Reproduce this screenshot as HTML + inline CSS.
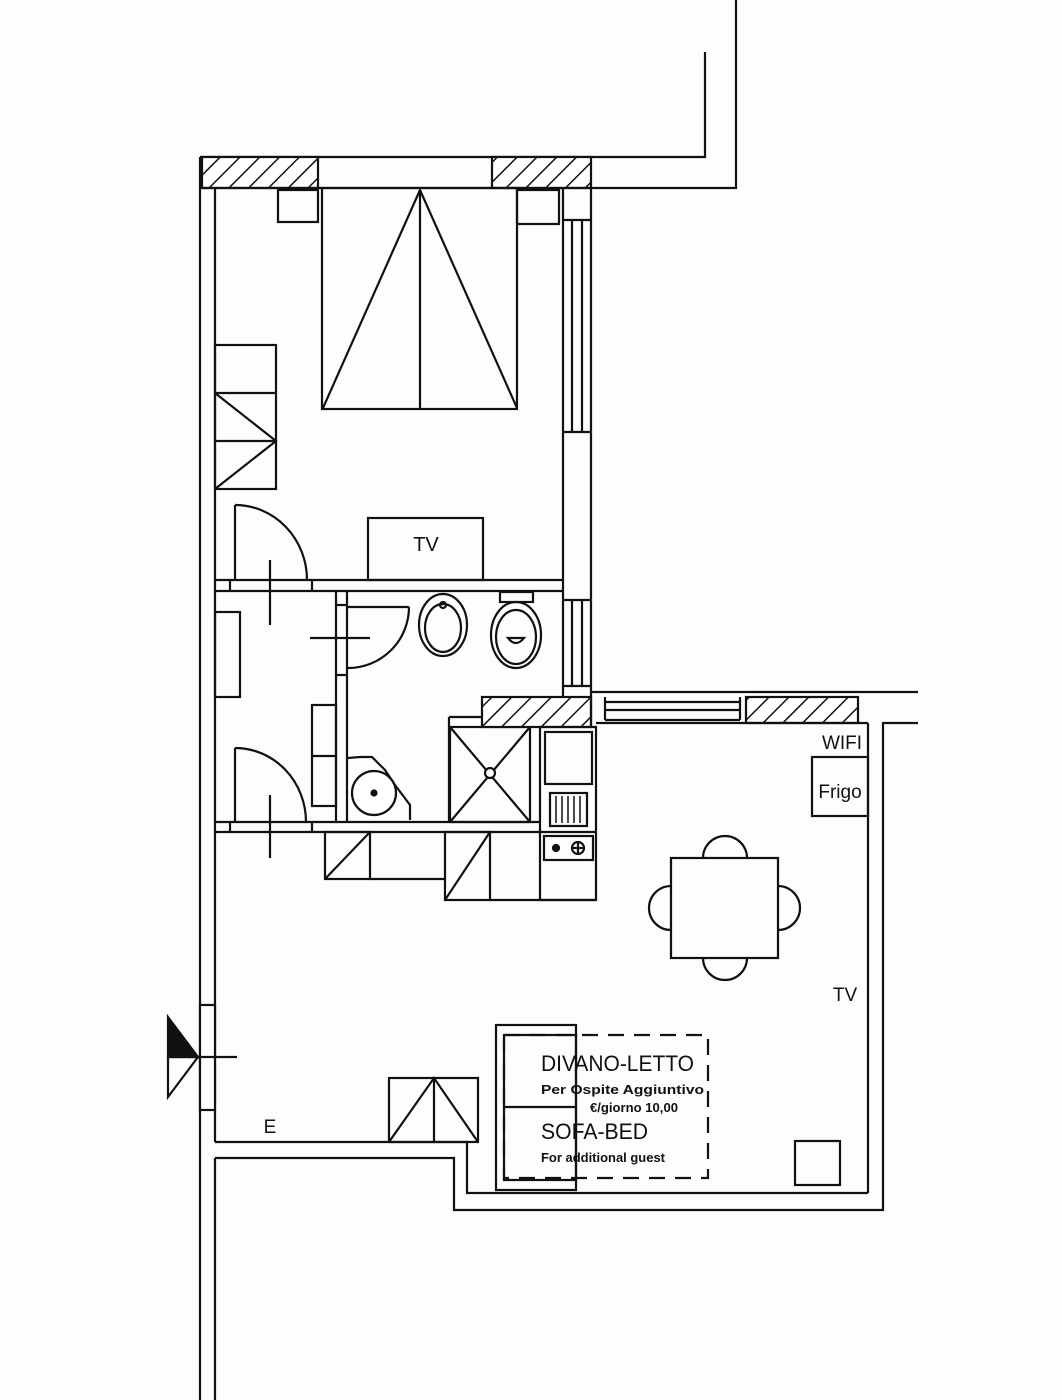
<!DOCTYPE html>
<html><head><meta charset="utf-8"><style>
html,body{margin:0;padding:0;background:#fdfdfd;}
svg{display:block;}
text{font-family:"Liberation Sans","DejaVu Sans",sans-serif;fill:#111;}
</style></head><body>
<svg width="1062" height="1400" viewBox="0 0 1062 1400" xmlns="http://www.w3.org/2000/svg">
<defs>
<pattern id="h" width="14" height="14" patternUnits="userSpaceOnUse" patternTransform="rotate(45)">
<rect width="14" height="14" fill="#fff"/><line x1="0" y1="0" x2="0" y2="14" stroke="#111" stroke-width="3"/>
</pattern>
</defs>
<g fill="none" stroke="#111" stroke-width="2.2">
<polyline points="200,157 705,157 705,52"/>
<polyline points="736,0 736,188 591,188"/>
<rect x="202" y="157" width="116" height="31" fill="url(#h)"/>
<rect x="492" y="157" width="99" height="31" fill="url(#h)"/>
<line x1="202" y1="188" x2="591" y2="188"/>
<line x1="200" y1="157" x2="200" y2="1400"/>
<line x1="215" y1="188" x2="215" y2="1142"/>
<line x1="215" y1="1158" x2="215" y2="1400"/>
<rect x="200" y="1005" width="15" height="105" fill="#fff"/>
<line x1="563" y1="188" x2="563" y2="697"/>
<line x1="591" y1="188" x2="591" y2="697"/>
<line x1="563" y1="220" x2="591" y2="220"/>
<line x1="563" y1="432" x2="591" y2="432"/>
<line x1="572" y1="220" x2="572" y2="432"/>
<line x1="582" y1="220" x2="582" y2="432"/>
<line x1="563" y1="600" x2="591" y2="600"/>
<line x1="563" y1="686" x2="591" y2="686"/>
<line x1="572" y1="600" x2="572" y2="686"/>
<line x1="582" y1="600" x2="582" y2="686"/>
<rect x="278" y="190" width="40" height="32"/>
<rect x="517" y="190" width="42" height="34"/>
<rect x="322" y="188" width="195" height="221"/>
<line x1="420" y1="190" x2="420" y2="409"/>
<polyline points="323,408 420,190 517,408"/>
<rect x="215" y="345" width="61" height="144"/>
<line x1="215" y1="393" x2="276" y2="393"/>
<line x1="215" y1="441" x2="276" y2="441"/>
<polyline points="215,393 276,441 215,489"/>
<line x1="235" y1="505" x2="235" y2="580"/>
<path d="M235,505 A72,75 0 0 1 307,580"/>
<line x1="270" y1="560" x2="270" y2="625"/>
<rect x="368" y="518" width="115" height="62"/>
<line x1="215" y1="580" x2="563" y2="580"/>
<line x1="215" y1="591" x2="563" y2="591"/>
<line x1="230" y1="580" x2="230" y2="591"/>
<line x1="312" y1="580" x2="312" y2="591"/>
<line x1="336" y1="591" x2="336" y2="822"/>
<line x1="347" y1="591" x2="347" y2="822"/>
<line x1="336" y1="605" x2="347" y2="605"/>
<line x1="336" y1="675" x2="347" y2="675"/>
<line x1="348" y1="607" x2="409" y2="607"/>
<path d="M409,607 A61,61 0 0 1 348,668"/>
<line x1="310" y1="638" x2="370" y2="638"/>
<rect x="215" y="612" width="25" height="85"/>
<rect x="312" y="705" width="24" height="101"/>
<line x1="312" y1="756" x2="336" y2="756"/>
<line x1="235" y1="748" x2="235" y2="822"/>
<path d="M235,748 A71,74 0 0 1 306,822"/>
<line x1="270" y1="795" x2="270" y2="858"/>
<line x1="215" y1="822" x2="540" y2="822"/>
<line x1="215" y1="832" x2="596" y2="832"/>
<line x1="230" y1="822" x2="230" y2="832"/>
<line x1="312" y1="822" x2="312" y2="832"/>
<ellipse cx="443" cy="625" rx="24" ry="31"/>
<ellipse cx="443" cy="628" rx="18" ry="24"/>
<circle cx="443" cy="605" r="3"/>
<ellipse cx="516" cy="635" rx="25" ry="33"/>
<ellipse cx="516" cy="637" rx="20" ry="27"/>
<rect x="500" y="592" width="33" height="10"/>
<path d="M508,638 Q516,648 524,638 Z"/>
<polyline points="348,758 360,757 372,757 385,770 395,785 410,805 410,820"/>
<circle cx="374" cy="793" r="22" fill="#fff"/>
<circle cx="374" cy="793" r="2.5" fill="#111"/>
<rect x="450" y="727" width="80" height="95"/>
<line x1="450" y1="727" x2="530" y2="822"/>
<line x1="530" y1="727" x2="450" y2="822"/>
<circle cx="490" cy="773" r="5" fill="#fff"/>
<rect x="482" y="697" width="109" height="30" fill="url(#h)"/>
<line x1="449" y1="717" x2="482" y2="717"/>
<line x1="449" y1="717" x2="449" y2="822"/>
<line x1="591" y1="692" x2="918" y2="692"/>
<line x1="591" y1="697" x2="591" y2="727"/>
<line x1="605" y1="697" x2="605" y2="720"/>
<line x1="605" y1="702" x2="740" y2="702"/>
<line x1="605" y1="710" x2="740" y2="710"/>
<line x1="605" y1="720" x2="740" y2="720"/>
<line x1="740" y1="697" x2="740" y2="720"/>
<rect x="746" y="697" width="112" height="26" fill="url(#h)"/>
<line x1="596" y1="723" x2="868" y2="723"/>
<rect x="540" y="727" width="56" height="173"/>
<rect x="545" y="732" width="47" height="52"/>
<rect x="550" y="793" width="37" height="33"/>
<line x1="556" y1="796" x2="556" y2="823" stroke-width="1.5"/>
<line x1="562" y1="796" x2="562" y2="823" stroke-width="1.5"/>
<line x1="568" y1="796" x2="568" y2="823" stroke-width="1.5"/>
<line x1="574" y1="796" x2="574" y2="823" stroke-width="1.5"/>
<line x1="580" y1="796" x2="580" y2="823" stroke-width="1.5"/>
<rect x="544" y="836" width="49" height="24"/>
<circle cx="556" cy="848" r="3" fill="#111"/>
<circle cx="578" cy="848" r="6"/>
<line x1="572" y1="848" x2="584" y2="848"/>
<line x1="578" y1="842" x2="578" y2="854"/>
<rect x="325" y="832" width="45" height="47"/>
<line x1="325" y1="879" x2="370" y2="832"/>
<line x1="370" y1="879" x2="445" y2="879"/>
<rect x="445" y="832" width="45" height="68"/>
<line x1="445" y1="900" x2="490" y2="832"/>
<line x1="490" y1="900" x2="596" y2="900"/>
<line x1="868" y1="723" x2="868" y2="1193"/>
<polyline points="918,723 883,723 883,1210 454,1210 454,1158 215,1158"/>
<polyline points="215,1142 467,1142 467,1193 868,1193"/>
<rect x="812" y="757" width="56" height="59"/>
<rect x="671" y="858" width="107" height="100"/>
<path d="M703,858 A22,22 0 0 1 747,858"/>
<path d="M703,958 A22,22 0 0 0 747,958"/>
<path d="M671,886 A22,22 0 0 0 671,930"/>
<path d="M778,886 A22,22 0 0 1 778,930"/>
<rect x="795" y="1141" width="45" height="44"/>
<rect x="496" y="1025" width="80" height="165"/>
<rect x="504" y="1035" width="72" height="145"/>
<line x1="504" y1="1107" x2="576" y2="1107"/>
<rect x="504" y="1035" width="204" height="143" stroke-dasharray="16,10"/>
<rect x="389" y="1078" width="89" height="64"/>
<line x1="434" y1="1078" x2="434" y2="1142"/>
<polyline points="389,1142 434,1078 478,1142"/>
<polygon points="168,1017 198,1057 168,1057" fill="#111"/>
<polygon points="168,1057 198,1057 168,1097"/>
<line x1="198" y1="1057" x2="237" y2="1057"/>
</g>
<text x="426" y="551" font-size="20" text-anchor="middle">TV</text>
<text x="842" y="749" font-size="19" text-anchor="middle">WIFI</text>
<text x="840" y="798" font-size="19" text-anchor="middle">Frigo</text>
<text x="845" y="1001" font-size="19" text-anchor="middle">TV</text>
<text x="270" y="1133" font-size="19" text-anchor="middle">E</text>
<text x="541" y="1071" font-size="22" textLength="153" lengthAdjust="spacingAndGlyphs">DIVANO-LETTO</text>
<text x="541" y="1094" font-size="13" font-weight="bold" textLength="163" lengthAdjust="spacingAndGlyphs">Per Ospite Aggiuntivo</text>
<text x="590" y="1112" font-size="13" font-weight="bold" textLength="88" lengthAdjust="spacingAndGlyphs">€/giorno 10,00</text>
<text x="541" y="1139" font-size="22" textLength="107" lengthAdjust="spacingAndGlyphs">SOFA-BED</text>
<text x="541" y="1162" font-size="13" font-weight="bold" textLength="124" lengthAdjust="spacingAndGlyphs">For additional guest</text>
</svg>
</body></html>
